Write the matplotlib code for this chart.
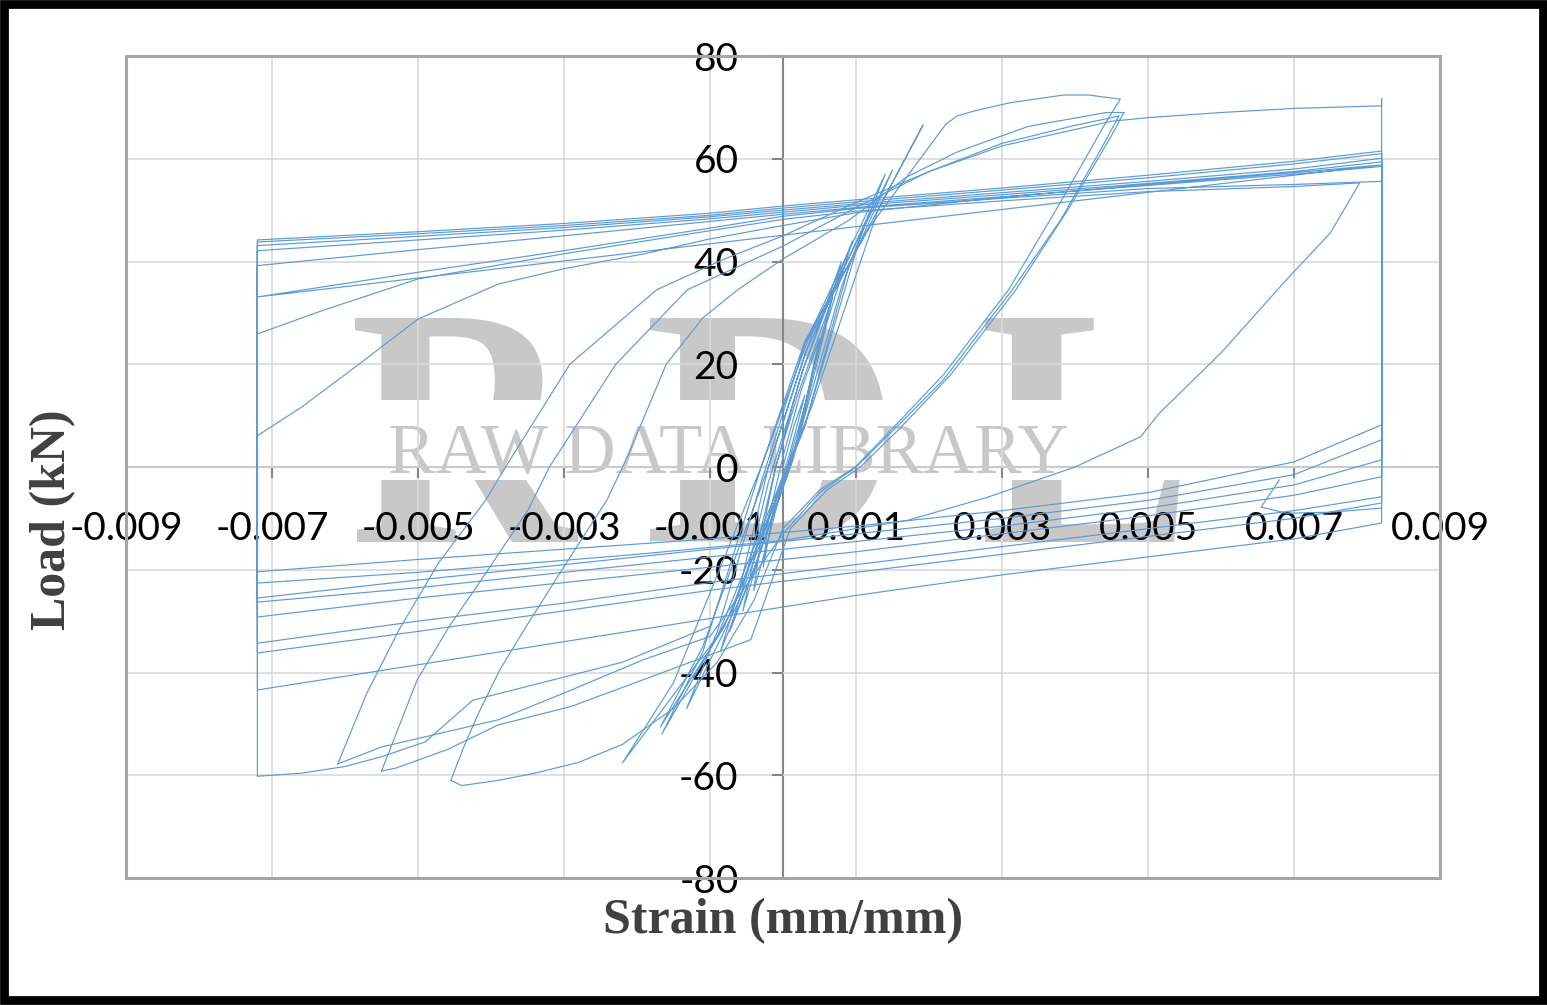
import matplotlib
matplotlib.use("Agg")
import matplotlib.pyplot as plt
from matplotlib.patches import Rectangle, PathPatch
from matplotlib.textpath import TextPath
from matplotlib.font_manager import FontProperties
from matplotlib.transforms import Affine2D

# ---- data: strain (mm/mm), load (kN) ----
x_ticks = [-0.009, -0.007, -0.005, -0.003, -0.001, 0.001, 0.003, 0.005, 0.007, 0.009]
x_tick_labels = ["-0.009", "-0.007", "-0.005", "-0.003", "-0.001",
                 "0.001", "0.003", "0.005", "0.007", "0.009"]
y_ticks = [-80, -60, -40, -20, 0, 20, 40, 60, 80]
y_tick_labels = ["-80", "-60", "-40", "-20", "0", "20", "40", "60", "80"]

# small elastic cycles around the origin
small_cycles = [
    (0, 0), (0.00015, 8), (0.0003, 14),
    (0.0001, 3), (-0.0001, -6), (-0.00027, -19.5),
    (-0.0002, -10), (0.0, 2), (0.00025, 15), (0.0005, 25),
    (0.0003, 12), (0.0, -3), (-0.0002, -14), (-0.0004, -24),
    (-0.0003, -14), (-0.0001, 0), (0.0002, 14), (0.00068, 33),
    (0.0004, 18), (0.0001, 0), (-0.0003, -16), (-0.00055, -28),
    (-0.0004, -18), (-0.0001, 0), (0.00025, 18), (0.0008, 40),
    (0.0005, 24), (0.00015, 2), (-0.0004, -20), (-0.00073, -32),
    (-0.0005, -21), (-0.0002, -3), (0.0003, 20), (0.00095, 44),
    (0.0006, 28), (0.0002, 5), (-0.0004, -20), (-0.00086, -36),
    (-0.0006, -24), (-0.0002, 0), (0.0003, 22), (0.0012, 50),
    (0.0008, 35), (0.0002, 5), (-0.0006, -26), (-0.00132, -47),
    (-0.0009, -32), (-0.0003, -3), (0.0003, 24), (0.0014, 57),
    (0.0009, 39), (0.0003, 8), (-0.0007, -28), (-0.00166, -52),
    (-0.0011, -36), (-0.0003, 0), (0.00035, 25), (0.0015, 57.8),
    (0.001, 42), (0.0003, 8), (-0.0008, -31), (-0.00168, -50.6),
    (-0.0011, -35), (-0.0002, 0), (0.0004, 26), (0.00192, 66.6),
    (0.0013, 50), (0.0004, 12), (-0.0009, -33), (-0.0022, -57.6),
    (-0.0015, -42), (-0.0003, 0), (0.0003, 24.5), (0.0012, 47), (0.00223, 66.7),
]

# first large tension excursion and unloading to compression tip A
tension_1 = [
    (0.00223, 66.7), (0.00238, 68.3), (0.00262, 69.3), (0.00311, 70.9), (0.0036, 71.9),
    (0.00384, 72.4), (0.00419, 72.4), (0.00462, 71.6),
    (0.0044, 66.5), (0.0038, 51.5), (0.00309, 34.5), (0.0022, 18), (0.0015, 7.5),
    (0.00099, 0), (0.0005, -4.5), (0.0, -12), (-0.0004, -26), (-0.0009, -38),
    (-0.0015, -47), (-0.0022, -54), (-0.0028, -57.5), (-0.0034, -59.6),
    (-0.0039, -61), (-0.0044, -62), (-0.00455, -61),
]
reload_a = [
    (-0.00455, -61), (-0.00437, -54.4), (-0.00417, -47.9), (-0.00388, -39.5),
    (-0.00349, -30.4), (-0.003, -19.4), (-0.00241, -6.4), (-0.0021, 3), (-0.0016, 20),
    (-0.0011, 29), (-0.00062, 34.5), (0.0, 40.5), (0.0009, 48), (0.0017, 56.5),
    (0.0024, 61.4), (0.00336, 66.3), (0.00443, 69), (0.00467, 69),
]
unload_b = [
    (0.00467, 69), (0.0045, 64.5), (0.0039, 50), (0.00319, 34.5), (0.0023, 18),
    (0.0016, 7.5), (0.00106, 0), (0.0006, -4.5), (0.0001, -12), (-0.00044, -33.6),
    (-0.00142, -38.8), (-0.0029, -46.6), (-0.0039, -50.2), (-0.0046, -55),
    (-0.0053, -58.6), (-0.0055, -59.2),
]
reload_b = [
    (-0.0055, -59.2), (-0.00501, -41.4), (-0.00457, -31), (-0.00413, -21.9),
    (-0.00349, -8.3), (-0.0032, 0), (-0.00229, 20), (-0.00131, 34.5), (0.0, 43),
    (0.001, 50.5), (0.002, 57.5), (0.003, 63), (0.004, 66.5), (0.0046, 68.3),
]
unload_c = [
    (0.0046, 68.3), (0.0044, 63), (0.0038, 48), (0.00314, 34.5), (0.0022, 17),
    (0.0015, 7), (0.001, 0), (0.0005, -5), (0.0, -13), (-0.001, -33),
    (-0.00191, -37.5), (-0.003, -44), (-0.0039, -49.2), (-0.0055, -54.5), (-0.0061, -57.8),
]
reload_c = [
    (-0.0061, -57.8), (-0.0057, -44), (-0.00526, -31.7), (-0.00472, -18.7),
    (-0.00408, -6.6), (-0.0038, 0), (-0.00292, 20), (-0.00173, 34.5), (-0.0008, 40.5),
    (0.0, 45), (0.001, 51.5), (0.002, 57.5), (0.003, 62.5), (0.0045, 67.3),
    (0.005, 68), (0.006, 69), (0.007, 69.8), (0.0082, 70.3), (0.0082, 71.7),
]
# compression run out to the left gauge limit
left_run = [
    (-0.001, -31), (-0.0022, -38), (-0.00425, -45.4), (-0.0049, -53.5), (-0.0055, -56.4),
    (-0.006, -58.3), (-0.0066, -59.6), (-0.0072, -60.2),
]

# upper bands between the gauge limits (left -> right)
top_x = [-0.0072, -0.005, -0.003, -0.001, 0.0, 0.001, 0.003, 0.005, 0.007, 0.0082]
top_1 = [44.2, 45.8, 47.4, 49.4, 50.8, 52.0, 54.3, 56.8, 59.5, 61.5]
top_2 = [43.8, 45.4, 47.0, 49.0, 50.4, 51.6, 53.9, 56.3, 59.0, 61.0]
top_3 = [43.1, 44.9, 46.6, 48.7, 50.0, 51.2, 53.4, 55.6, 58.0, 60.1]
top_4 = [42.1, 44.2, 46.1, 48.3, 49.6, 50.9, 53.0, 55.2, 57.5, 59.4]
top_5 = [39.2, 42.3, 45.0, 47.8, 49.2, 50.5, 52.6, 54.8, 57.0, 58.5]
top_6 = [33.1, 37.9, 42.1, 46.5, 48.8, 50.3, 52.3, 54.2, 55.0, 55.6]
top_7 = [(-0.0072, 25.9), (-0.0063, 30.5), (-0.005, 36.6), (-0.003, 41.5), (-0.001, 46.0),
         (0.0, 48.2), (0.001, 49.8), (0.003, 51.8), (0.005, 53.6), (0.007, 54.6), (0.0079, 55.3)]
top_8 = [(-0.0072, 6.1), (-0.0066, 11.6), (-0.0058, 20.1), (-0.005, 28.8), (-0.0039, 35.6),
         (-0.003, 38.6), (-0.0019, 41.5), (-0.001, 44.4), (0.0, 47.0), (0.001, 49.5),
         (0.003, 52.5), (0.005, 55.0), (0.007, 57.3), (0.0082, 58.8)]
# unloading from the 0.0079 tip
unload_tip = [(0.0079, 55.3), (0.0075, 45.6), (0.0069, 36.5), (0.006, 22.2), (0.00515, 10.4),
              (0.0049, 5.9), (0.004, 0), (0.0028, -5.9), (0.0017, -10.4), (0.0, -14.3),
              (-0.002, -17), (-0.005, -20.5), (-0.0072, -22.6)]

# lower bands (right -> left)
bot_x = [0.0082, 0.007, 0.005, 0.003, 0.001, -0.001, -0.003, -0.005, -0.0072]
bot_1 = [8.2, 1.0, -5.0, -8.5, -11.5, -14.0, -16.0, -18.0, -20.4]
bot_2 = [5.3, -1.5, -6.5, -10.0, -13.0, -16.0, -19.0, -22.0, -25.5]
bot_3 = [1.4, -3.5, -8.0, -11.5, -14.5, -17.5, -20.5, -23.5, -26.3]
bot_4 = [-1.9, -5.5, -9.5, -13.0, -16.5, -19.5, -22.5, -25.5, -29.2]
bot_5 = [-5.8, -8.5, -12.0, -15.5, -19.0, -22.5, -26.5, -30.0, -34.3]
bot_6 = [-7.0, -10.0, -13.5, -17.0, -20.5, -24.0, -28.0, -32.0, -36.2]
bot_7 = [-10.9, -14.0, -17.5, -21.0, -25.0, -29.5, -34.0, -38.5, -43.4]
kink = [(0.0068, -2.5), (0.00655, -7.8), (0.0069, -9.0), (0.0075, -8.8), (0.0082, -8.0)]

# ---- figure ----
W, H, DPI = 1547, 1005, 100
LINE = "#5B9BD5"
WM = "#C8C8C8"
plt.rcParams["font.family"] = ["Lato", "DejaVu Sans"]
plt.rcParams["axes.unicode_minus"] = False

fig = plt.figure(figsize=(W / DPI, H / DPI), dpi=DPI)
px = Affine2D().scale(1 / DPI) + fig.dpi_scale_trans  # pixel coords, origin bottom-left

ax = fig.add_axes([126 / W, 1 - 878 / H, (1440 - 126) / W, (878 - 56) / H])
ax.set_xlim(-0.009, 0.009)
ax.set_ylim(-80, 80)
ax.set_xticks(x_ticks)
ax.set_xticklabels(x_tick_labels)
ax.set_yticks(y_ticks)
ax.set_yticklabels(y_tick_labels)
ax.grid(True, color="#D9D9D9", lw=1.2)
ax.set_axisbelow(False)  # grid/labels at 2.5, watermark under them, data lines over
for s in ("top", "right"):
    ax.spines[s].set_visible(False)
ax.spines["left"].set_position(("data", 0))
ax.spines["bottom"].set_position(("data", 0))
for s in ("left", "bottom"):
    ax.spines[s].set_color("#868686")
    ax.spines[s].set_linewidth(1.5)
ax.tick_params(direction="out", length=8, width=1.5, color="#868686",
               labelsize=28, pad=24, labelcolor="black")
ax.add_patch(Rectangle((0, 0), 1, 1, transform=ax.transAxes, fill=False,
                       ec="#A6A6A6", lw=2.2, clip_on=False, zorder=2.6))


def draw(points):
    xs = [p[0] for p in points]
    ys = [p[1] for p in points]
    ax.plot(xs, ys, color=LINE, lw=0.85, zorder=3)


for branch in (small_cycles, tension_1, reload_a, unload_b, reload_b, unload_c, reload_c):
    draw(branch)

# cycles between the gauge limits: top band -> drop at right -> bottom band -> rise at left
chain = list(zip(bot_x, bot_7)) + top_8
for tops, bots in ((top_6, bot_6), (top_5, bot_5), (top_4, bot_4),
                   (top_3, bot_3), (top_2, bot_2), (top_1, bot_1)):
    chain += list(zip(top_x, tops))
    chain += list(zip(bot_x, bots))
draw([(0.0082, 71.7), (0.0082, -10.9)] + chain)
draw(left_run + [(-0.0072, 6.1)])
draw(top_7 + unload_tip)
draw(kink)

# ---- watermark: big letters cut by a band that holds the small text ----
upper_clip = Rectangle((0, H - 400), W, 400, transform=px)
lower_clip = Rectangle((0, 0), W, H - 480, transform=px)
fp = FontProperties(family="Liberation Serif", weight="bold")
for ch, (x0, y0, x1, y1) in (("R", (355, 318, 578, 542)),
                             ("D", (650, 318, 885, 542)),
                             ("L", (985, 318, 1180, 542))):
    tp = TextPath((0, 0), ch, size=100, prop=fp)
    ext = tp.get_extents()
    tr = (Affine2D().translate(-ext.x0, -ext.y0)
          .scale((x1 - x0) / ext.width, (y1 - y0) / ext.height)
          .translate(x0, H - y1) + px)
    for clip in (upper_clip, lower_clip):
        p = PathPatch(tp, transform=tr, fc=WM, ec="none", zorder=1)
        ax.add_patch(p)
        p.set_clip_path(clip)  # after add_patch, or the axes clip replaces it
ax.text(728, H - 472, "RAW DATA LIBRARY", transform=px, ha="center", va="baseline",
        fontsize=51, family="Liberation Serif", color=WM, zorder=1)

# ---- axis titles ----
fig.text(783, H - 933, "Strain (mm/mm)", transform=px, ha="center", va="baseline",
         fontsize=36, fontweight="bold", family="Liberation Serif", color="#404040")
fig.text(65, H - 520, "Load (kN)", transform=px, ha="center", va="baseline",
         rotation=90, rotation_mode="anchor", fontsize=36, fontweight="bold",
         family="Liberation Serif", color="#404040")

# outer black frame
fig.add_artist(Rectangle((4.25, 5), 1542.5 - 4.25, 1001 - 5, transform=px,
                         fill=False, ec="black", lw=6.3))

fig.savefig("out.png", dpi=DPI)
